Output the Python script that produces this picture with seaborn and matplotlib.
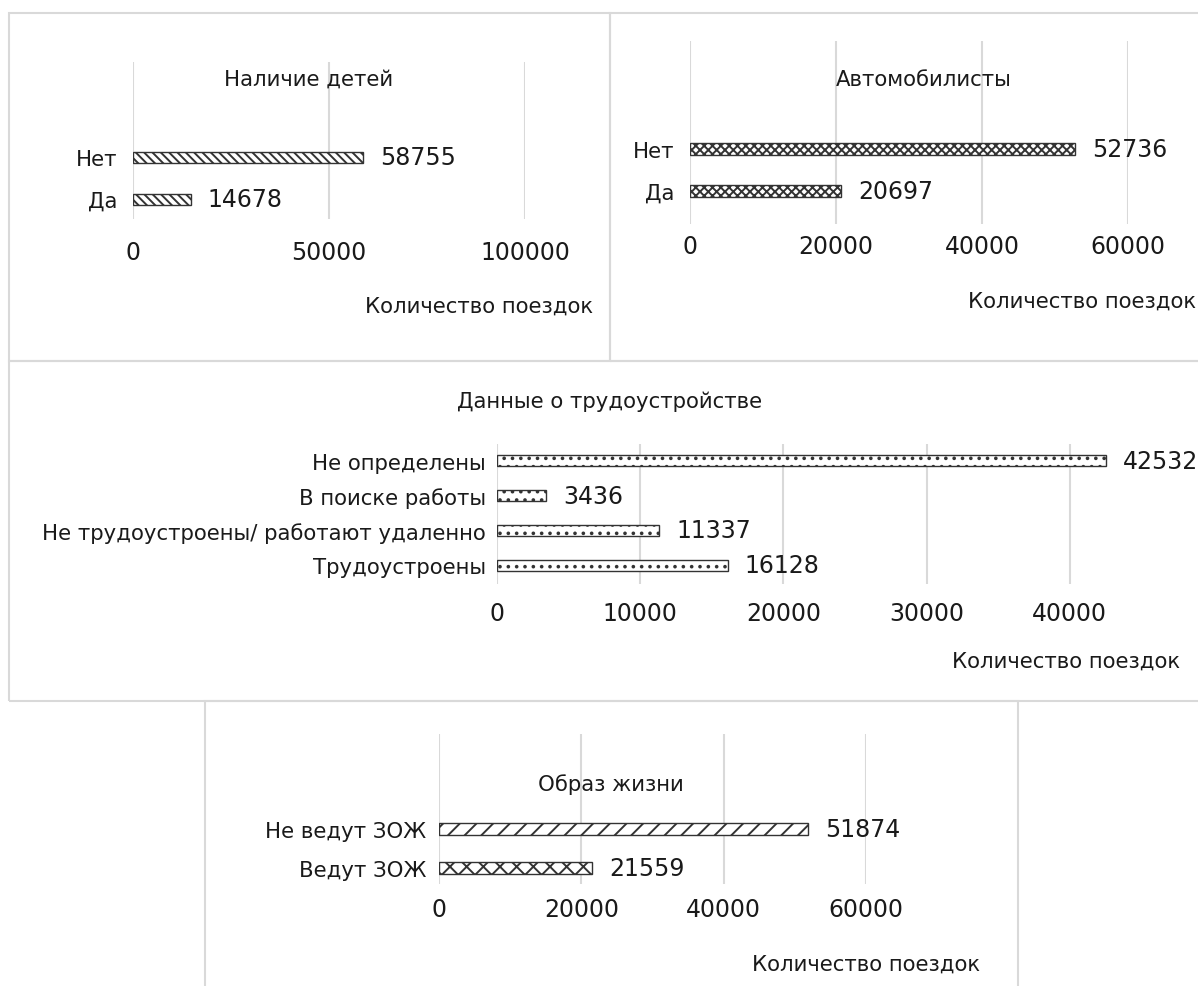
import matplotlib
matplotlib.use("Agg")
import matplotlib.pyplot as plt
from matplotlib.patches import Rectangle
import seaborn as sns

# --- canvas size in pixels ---
W, H = 1198, 987

# --- chart data ---
kids_labels = ["Нет", "Да"]
kids_values = [58755, 14678]

car_labels = ["Нет", "Да"]
car_values = [52736, 20697]

job_labels = ["Не определены", "В поиске работы",
              "Не трудоустроены/ работают удаленно", "Трудоустроены"]
job_values = [42532, 3436, 11337, 16128]

life_labels = ["Не ведут ЗОЖ", "Ведут ЗОЖ"]
life_values = [51874, 21559]

titles = ["Наличие детей", "Автомобилисты", "Данные о трудоустройстве", "Образ жизни"]
x_title = "Количество поездок"

sns.set_theme(style="white")
plt.rcParams['font.family'] = ['DejaVu Sans']
plt.rcParams['hatch.color'] = '#1a1a1a'
plt.rcParams['hatch.linewidth'] = 1.4

FS_NUM = 17     # numbers (ticks, data labels)
FS_TXT = 15.3   # category labels, titles
GRID = '#d9d9d9'
INK = '#1a1a1a'


def px_axes(fig, x0, y0, x1, y1):
    return fig.add_axes([x0 / W, 1 - y1 / H, (x1 - x0) / W, (y1 - y0) / H])


def panel_box(fig, x0, y0, x1, y1):
    fig.patches.append(Rectangle((x0 / W, 1 - y1 / H), (x1 - x0) / W, (y1 - y0) / H,
                                 transform=fig.transFigure, fill=False,
                                 edgecolor=GRID, linewidth=1.5, zorder=0))


def draw_panel(fig, labels, values, hatches, plot, xmax, ticks, centers, bar_px,
               tick_y, ylab_pad, title, title_xy, xlab_xy, xlab_ha):
    x0, y0, x1, y1 = plot
    ax = px_axes(fig, x0, y0, x1, y1)
    gap = centers[1] - centers[0]
    sns.barplot(x=values, y=labels, orient="h", color="white", edgecolor="#333333",
                linewidth=1, width=bar_px / gap, ax=ax, zorder=3)
    for p, h in zip(ax.patches, hatches):
        p.set_hatch(h)
    n = len(labels)
    top = -(centers[0] - y0) / gap
    bottom = (n - 1) + (y1 - centers[-1]) / gap
    ax.set_ylim(bottom, top)
    ax.set_xlim(0, xmax)
    ax.set_xticks(ticks)
    ax.grid(axis="x", color=GRID, linewidth=1.5, zorder=0)
    ax.grid(axis="y", visible=False)
    sns.despine(ax=ax, left=True, bottom=True)
    fs_px = FS_NUM / 72 * 100
    ax.tick_params(axis="x", length=0, labelsize=FS_NUM, labelcolor=INK,
                   pad=(tick_y - y1 - fs_px * 0.5) * 0.72)
    ax.tick_params(axis="y", length=0, labelsize=FS_TXT, labelcolor=INK, pad=ylab_pad)
    ax.set_xlabel("")
    ax.set_ylabel("")
    for c in ax.containers:
        ax.bar_label(c, fmt="%d", padding=12, fontsize=FS_NUM, color=INK)
    for t in ax.texts:
        t.set_clip_on(False)
    fig.text(title_xy[0] / W, 1 - title_xy[1] / H, title, ha="center", va="center",
             fontsize=FS_TXT, color=INK)
    fig.text(xlab_xy[0] / W, 1 - xlab_xy[1] / H, x_title, ha=xlab_ha, va="center",
             fontsize=FS_TXT, color=INK)
    return ax


fig = plt.figure(figsize=(W / 100, H / 100), dpi=100)

panel_box(fig, 9, 14, 610, 362)
panel_box(fig, 610, 14, 1240, 362)
panel_box(fig, 9, 362, 1240, 702)
panel_box(fig, 205, 702, 1018, 1000)

draw_panel(fig, kids_labels, kids_values, ["\\\\\\\\", "\\\\\\\\"],
           (133, 63, 525, 220), 100000, [0, 50000, 100000], [158, 200], 11,
           253, 11, titles[0], (309, 80), (593, 307), "right")

draw_panel(fig, car_labels, car_values, ["xxxx", "xxxx"],
           (690, 42, 1128, 225), 60000, [0, 20000, 40000, 60000], [150, 192], 12,
           247, 11, titles[1], (924, 80), (968, 302), "left")

draw_panel(fig, job_labels, job_values, ["..", "..", "..", ".."],
           (497, 445, 1213, 585), 50000, [0, 10000, 20000, 30000, 40000],
           [462, 496.7, 531.4, 566], 11,
           614, 8, titles[2], (610, 402), (1180, 662), "right")

draw_panel(fig, life_labels, life_values, ["//", "xx"],
           (439, 735, 866, 885), 60000, [0, 20000, 40000, 60000], [830, 869], 12,
           910, 9, titles[3], (611, 785), (980, 965), "right")

fig.savefig("out.png", dpi=100)
